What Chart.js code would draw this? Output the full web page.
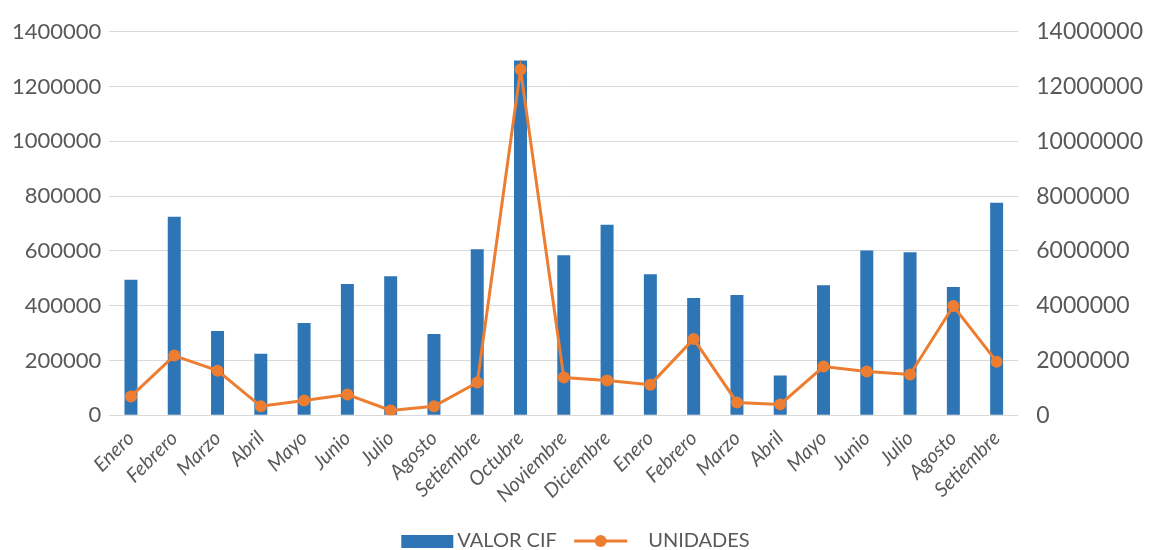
<!DOCTYPE html>
<html>
<head>
<meta charset="utf-8">
<script src="https://cdn.jsdelivr.net/npm/chart.js@4/dist/chart.umd.min.js"></script>
<style>
  html, body { margin:0; padding:0; background:#fff; }
  #wrap { width:1149px; height:550px; }
</style>
</head>
<body>
<div id="wrap"><canvas id="chart"></canvas></div>
<script>
// datos
const meses = ["Enero","Febrero","Marzo","Abril","Mayo","Junio","Julio","Agosto","Setiembre","Octubre","Noviembre","Diciembre",
               "Enero","Febrero","Marzo","Abril","Mayo","Junio","Julio","Agosto","Setiembre"];
const valorCif = [495000, 725000, 308000, 225000, 337000, 479000, 508000, 297000, 606000, 1295000, 584000, 696000,
                  515000, 428000, 439000, 145000, 475000, 602000, 595000, 468000, 776000];
const unidades = [690000, 2180000, 1630000, 330000, 540000, 760000, 180000, 330000, 1200000, 12620000, 1380000, 1270000,
                  1120000, 2790000, 470000, 400000, 1780000, 1600000, 1490000, 3990000, 1960000];
const maxCif = 1400000, pasoCif = 200000;
const maxUni = 14000000, pasoUni = 2000000;

const azul = "#2E75B6";
const naranja = "#ED7D31";
const gris = "#595959";

// iconos de leyenda (lienzo ancho, marca corrida a la derecha)
function iconoBarra() {
    let c = document.createElement("canvas");
    c.width = 80; c.height = 13;
    let ctx = c.getContext("2d");
    ctx.fillStyle = azul;
    ctx.fillRect(22, 0, 52, 13);
    return c;
}
function iconoLinea() {
    let c = document.createElement("canvas");
    c.width = 80; c.height = 14;
    let ctx = c.getContext("2d");
    ctx.strokeStyle = naranja;
    ctx.lineWidth = 3;
    ctx.beginPath(); ctx.moveTo(4, 7); ctx.lineTo(57, 7); ctx.stroke();
    ctx.fillStyle = naranja;
    ctx.beginPath(); ctx.arc(30.5, 7, 6, 0, Math.PI*2); ctx.fill();
    return c;
}

const bajarLeyenda = {
    id:"bajarLeyenda",
    afterLayout:function(ch){
        ch.legend.top += 11;
        ch.legend.bottom += 11;
        ch.legend.left -= 12;
        ch.legend.right -= 12;
    }
};

let chart = new Chart(document.getElementById("chart"), {
    data:{
        labels:meses,
        datasets:[{
            type:"line",
            label:"UNIDADES",
            data:unidades,
            yAxisID:"y2",
            borderColor:naranja,
            backgroundColor:naranja,
            borderWidth:3,
            pointRadius:6,
            pointBackgroundColor:naranja,
            pointBorderWidth:0,
            order:0
        },{
            type:"bar",
            label:"VALOR CIF",
            data:valorCif,
            yAxisID:"y",
            backgroundColor:azul,
            barPercentage:0.3,
            categoryPercentage:1,
            order:1
        }]
    },
    plugins:[bajarLeyenda],
    options:{
        responsive:true,
        maintainAspectRatio:false,
        animation:false,
        layout:{ padding:{ top:2, left:4, right:-12, bottom:0 } },
        plugins:{
            tooltip:{ enabled:false },
            legend:{
                position:"bottom",
                labels:{
                    usePointStyle:true,
                    pointStyleWidth:56,
                    padding:10,
                    color:gris,
                    font:{ family:"Lato", size:20 },
                    generateLabels:function(ch){
                        return [
                            { text:"VALOR CIF   ", pointStyle:iconoBarra(), fontColor:gris, datasetIndex:1, hidden:false, lineWidth:0 },
                            { text:"UNIDADES", pointStyle:iconoLinea(), fontColor:gris, datasetIndex:0, hidden:false, lineWidth:0 }
                        ];
                    }
                }
            }
        },
        scales:{
            x:{
                grid:{ display:false },
                border:{ display:false },
                ticks:{
                    color:gris,
                    maxRotation:45,
                    minRotation:45,
                    autoSkip:false,
                    padding:3,
                    font:{ family:"Lato", size:20, style:"italic" }
                }
            },
            y:{
                position:"left",
                min:0, max:maxCif,
                grid:{ color:"#d9d9d9", lineWidth:1, drawTicks:false },
                border:{ display:false },
                ticks:{
                    stepSize:pasoCif,
                    padding:8,
                    color:gris,
                    font:{ family:"Lato", size:22 },
                    callback:function(v){ return v; }
                }
            },
            y2:{
                position:"right",
                min:0, max:maxUni,
                grid:{ display:false, drawTicks:false },
                border:{ display:false },
                ticks:{
                    stepSize:pasoUni,
                    padding:18,
                    color:gris,
                    font:{ family:"Lato", size:23 },
                    callback:function(v){ return v; }
                }
            }
        }
    }
});
</script>
</body>
</html>
